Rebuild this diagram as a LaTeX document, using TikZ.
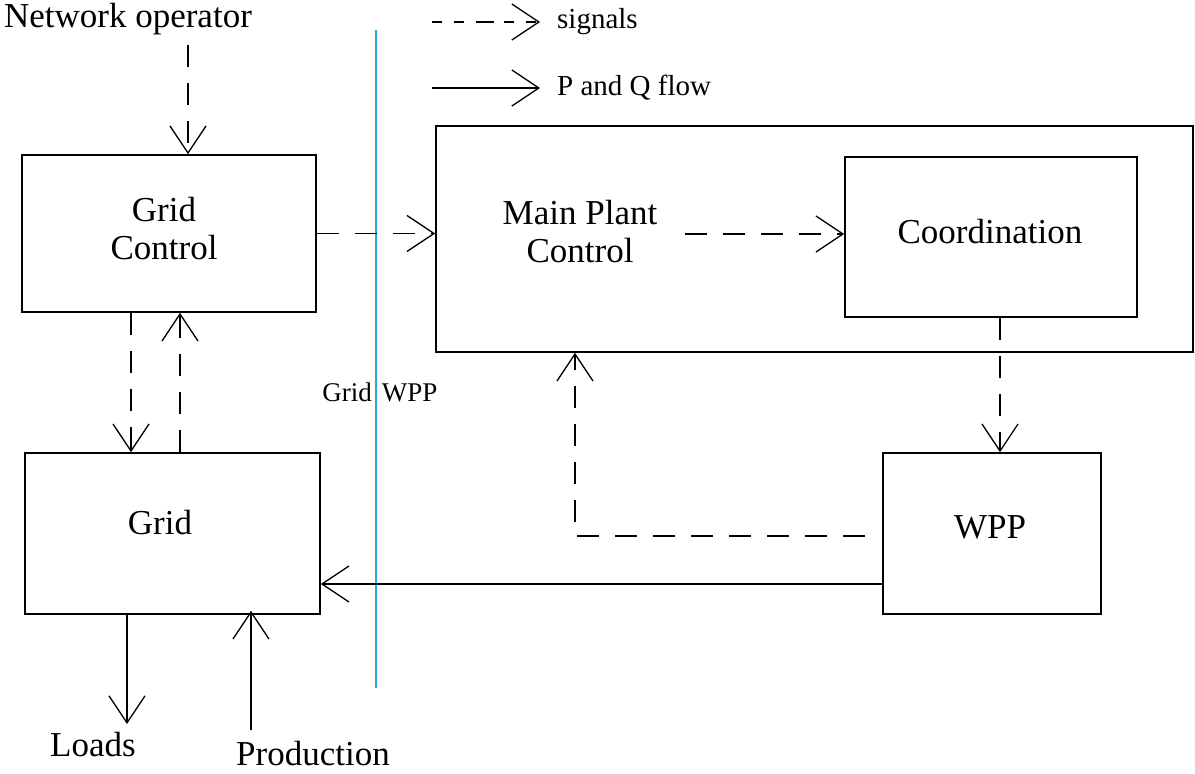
\documentclass[tikz,border=0pt]{standalone}
\usepackage{fontspec}
\setmainfont{Liberation Serif}
\usetikzlibrary{arrows.meta}
\definecolor{divblue}{RGB}{38,168,226}
\tikzset{
  box/.style={draw, line width=1.6pt, inner sep=0pt},
  big/.style={font=\fontsize{35}{38}\selectfont, align=center, inner sep=0pt},
  small/.style={font=\fontsize{29}{32}\selectfont, inner sep=0pt},
  tiny/.style={font=\fontsize{27}{29}\selectfont, inner sep=0pt},
  tip/.style={-{Straight Barb[length=27pt,width=36pt,line width=1.3pt]}},
  sig/.style={tip, line width=1.4pt, dash pattern=on 22pt off 16pt},
  legsig/.style={tip, line width=1.4pt, dash pattern=on 10pt off 12pt on 10pt off 12pt on 18pt off 10pt},
  flow/.style={tip, line width=1.4pt}
}
\begin{document}
\begin{tikzpicture}[x=1pt,y=-1pt]
\useasboundingbox (0,0) rectangle (1195,774);
% divider
\draw[divblue, line width=2pt] (376,30) -- (376,688);
% boxes
\node[box, minimum width=294pt, minimum height=157pt] (gc) at (169,233.5) {};
\node[big] (gct) at (164,229) {Grid\\Control};
\node[box, minimum width=295pt, minimum height=161pt] (grid) at (172.5,533.5) {};
\node[big] (gridt) at (160,523) {Grid};
\node[box, minimum width=757pt, minimum height=226pt] (mp) at (814.5,239) {};
\node[big] (mpt) at (580,232) {Main Plant\\Control};
\node[box, minimum width=292pt, minimum height=160pt] (co) at (991,237) {};
\node[big] (cot) at (990,232) {Coordination};
\node[box, minimum width=218pt, minimum height=161pt] (wpp) at (992,533.5) {};
\node[big] (wppt) at (990,527) {WPP};
% texts
\node[big] (no) at (128,19) {Network operator};
\node[big] (loads) at (93,745) {Loads};
\node[big] (prod) at (313,754) {Production};
\node[tiny] (gw) at (380,392) {Grid\hspace{10pt}WPP};
% legend
\coordinate (l1a) at (432,22); \coordinate (l1b) at (540,22);
\coordinate (l2a) at (432,88); \coordinate (l2b) at (540,88);
\draw[legsig] (l1a) -- (l1b);
\draw[flow] (l2a) -- (l2b);
\node[small, anchor=west] (lsig) at (557,22) {signals};
\node[small, anchor=west] (lflow) at (557,88) {P and Q flow};
% signals
\coordinate (noA) at (188,45);
\draw[sig] (noA) -- (noA |- gc.north);
\draw[sig] (131,0 |- gc.south) -- (131,0 |- grid.north);
\draw[sig] (180,0 |- grid.north) -- (180,0 |- gc.south);
\draw[sig] (gc.east) -- (gc.east -| mp.west);
\coordinate (mpA) at (685,234);
\draw[sig] (mpA) -- (mpA -| co.west);
\draw[sig] (1000,0 |- co.south) -- (1000,0 |- wpp.north);
\coordinate (wA) at (865,536);
\coordinate (wB) at (575,536);
\draw[sig] (wA) -- (wB) -- (wB |- mp.south);
% flows
\draw[flow] (wpp.west |- 0,584) -- (grid.east |- 0,584);
\coordinate (ld) at (127,724);
\draw[flow] (ld |- grid.south) -- (ld);
\coordinate (pr) at (251,730);
\draw[flow] (pr) -- ([yshift=4pt]pr |- grid.south);
\end{tikzpicture}
\end{document}
